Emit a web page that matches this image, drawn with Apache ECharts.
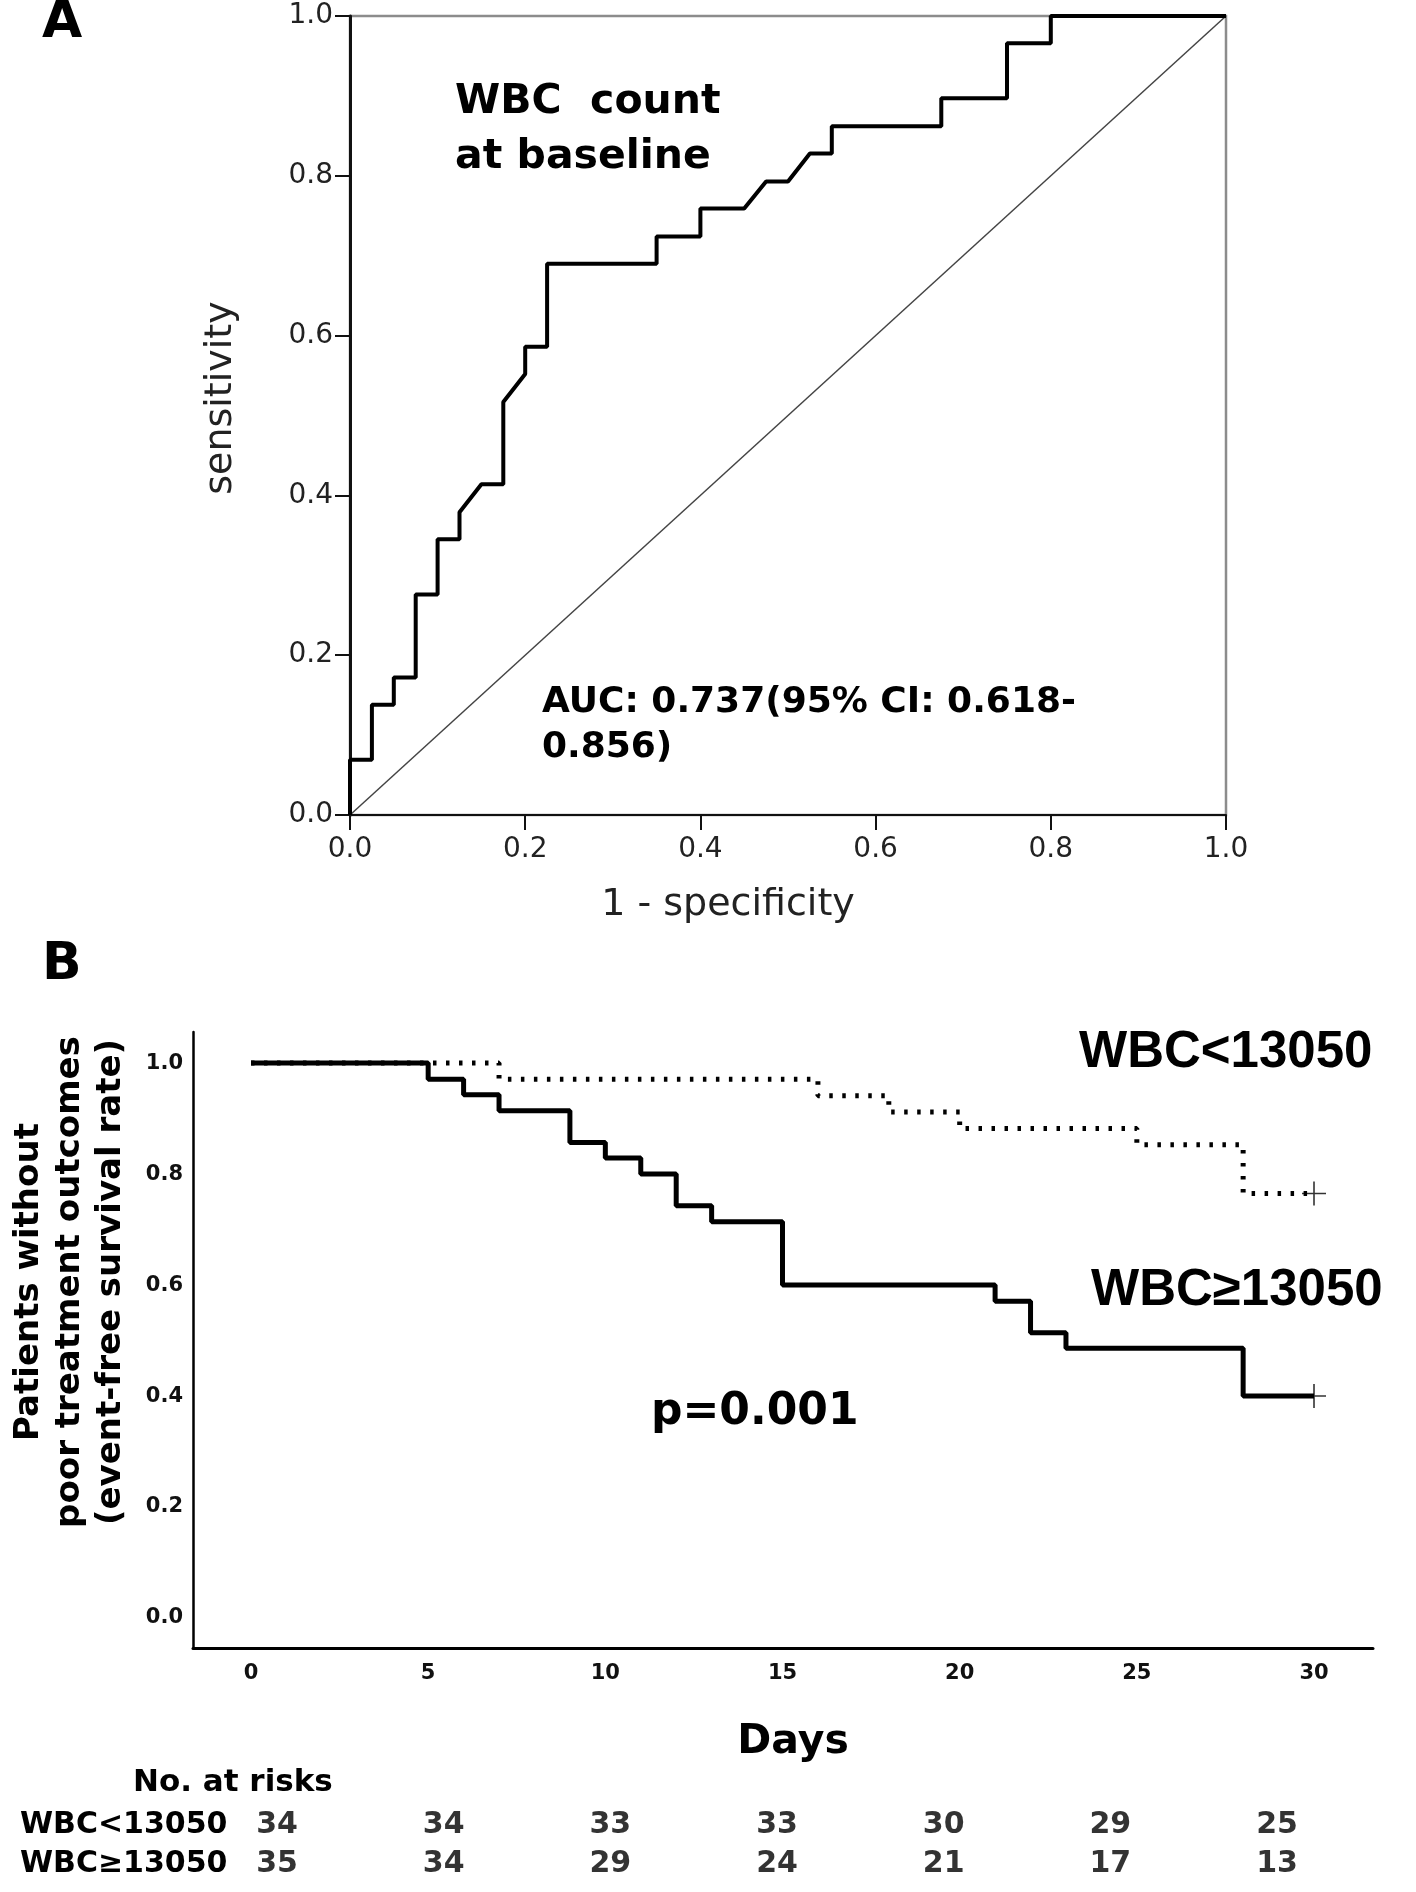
<!DOCTYPE html>
<html><head><meta charset="utf-8">
<script src="https://cdn.jsdelivr.net/npm/echarts@6/dist/echarts.min.js"></script>
<style>html,body{margin:0;padding:0;background:#fff}#c{width:1416px;height:1892px}</style>
</head><body><div id="c"></div>
<script>
// ---------- Panel A: ROC curve (vertices of the empirical curve) ----------
const rocFpr  = [0, 0, 0.025, 0.025, 0.05, 0.05, 0.075, 0.075, 0.1, 0.1, 0.125, 0.125, 0.15, 0.175, 0.175, 0.2, 0.2, 0.225, 0.225, 0.35, 0.35, 0.4, 0.4, 0.45, 0.475, 0.5, 0.525, 0.55, 0.55, 0.675, 0.675, 0.75, 0.75, 0.8, 0.8, 1.0];
const rocSens = [0, 0.069, 0.069, 0.138, 0.138, 0.172, 0.172, 0.276, 0.276, 0.345, 0.345, 0.379, 0.414, 0.414, 0.517, 0.552, 0.586, 0.586, 0.690, 0.690, 0.724, 0.724, 0.759, 0.759, 0.793, 0.793, 0.828, 0.828, 0.862, 0.862, 0.897, 0.897, 0.966, 0.966, 1.0, 1.0];
const diagFpr  = [0, 1];
const diagSens = [0, 1];

// ---------- Panel B: Kaplan-Meier ----------
const kmLowDays  = [0, 7, 16, 18, 20, 25, 28, 30];
const kmLowSurv  = [1.0, 0.971, 0.941, 0.912, 0.882, 0.853, 0.765, 0.765];
const kmHighDays = [0, 5, 6, 7, 9, 10, 11, 12, 13, 15, 21, 22, 23, 28, 30];
const kmHighSurv = [1.0, 0.971, 0.943, 0.914, 0.857, 0.829, 0.800, 0.743, 0.714, 0.600, 0.571, 0.514, 0.486, 0.400, 0.400];
const censorDays = [30, 30];
const censorSurv = [0.765, 0.400];
const kmDayTicks  = [0, 5, 10, 15, 20, 25, 30];
const kmSurvTicks = [0, 0.2, 0.4, 0.6, 0.8, 1.0];

// ---------- Numbers at risk ----------
const groupNames = ['WBC<13050', 'WBC\u226513050'];
const riskDays = [0, 5, 10, 15, 20, 25, 30];
const riskLow  = [34, 34, 33, 33, 30, 29, 25];
const riskHigh = [35, 34, 29, 24, 21, 17, 13];

const chart = echarts.init(document.getElementById('c'), null, {renderer: 'canvas'});
const F = 'DejaVu Sans';

function txt(x, y, text, size, opts) {
  opts = opts || {};
  return {
    type: 'text', x: x, y: y, rotation: opts.rot || 0, z: 100,
    style: {
      text: text, fill: opts.color || '#000',
      font: (opts.weight || 'bold') + ' ' + size + 'px "' + (opts.family || F) + '"',
      textAlign: opts.align || 'left', textVerticalAlign: 'middle'
    }
  };
}

const option = {
  animation: false,
  backgroundColor: '#fff',
  grid: [
    {left: 350, top: 16, width: 876, height: 799, show: true, borderColor: '#8c8c8c', borderWidth: 2.5, backgroundColor: 'transparent'},
    {left: 193, top: 1032, width: 1180, height: 616},
    {left: 277, top: 1806, width: 1000, height: 78}
  ],
  xAxis: [
    {gridIndex: 0, type: 'value', min: 0, max: 1, interval: 0.2,
     axisLine: {show: true, onZero: false, lineStyle: {color: '#111', width: 2}},
     axisTick: {show: true, length: 15, lineStyle: {color: '#111', width: 2}},
     axisLabel: {margin: 21, fontFamily: F, fontSize: 28, color: '#222', formatter: v => v.toFixed(1)},
     splitLine: {show: false}},
    {gridIndex: 1, type: 'value', min: -1.637, max: 31.665,
     axisLine: {show: true, onZero: false, lineStyle: {color: '#000', width: 3}},
     axisTick: {show: false},
     axisLabel: {customValues: kmDayTicks, margin: 15, fontFamily: F, fontWeight: 'bold', fontSize: 21, color: '#111', formatter: v => String(v)},
     splitLine: {show: false}},
    {gridIndex: 2, type: 'value', min: 0, max: 30, show: false}
  ],
  yAxis: [
    {gridIndex: 0, type: 'value', min: 0, max: 1, interval: 0.2,
     axisLine: {show: true, onZero: false, lineStyle: {color: '#111', width: 3}},
     axisTick: {show: true, length: 15, lineStyle: {color: '#111', width: 2}},
     axisLabel: {margin: 17, fontFamily: F, fontSize: 28, color: '#222', formatter: v => v.toFixed(1)},
     splitLine: {show: false}},
    {gridIndex: 1, type: 'value', min: -0.054, max: 1.056,
     axisLine: {show: true, onZero: false, lineStyle: {color: '#000', width: 2.5}},
     axisTick: {show: false},
     axisLabel: {customValues: kmSurvTicks, margin: 10, fontFamily: F, fontWeight: 'bold', fontSize: 21, color: '#111', padding: [9, 0, 0, 0], formatter: v => v.toFixed(1)},
     splitLine: {show: false}},
    {gridIndex: 2, type: 'category', inverse: true, data: groupNames,
     axisLine: {show: false}, axisTick: {show: false}, splitLine: {show: false},
     axisLabel: {interval: 0, align: 'left', margin: 257, fontFamily: F, fontWeight: 'bold', fontSize: 30, color: '#000'}}
  ],
  series: [
    {type: 'line', xAxisIndex: 0, yAxisIndex: 0, data: diagFpr.map((x, i) => [x, diagSens[i]]),
     symbol: 'none', lineStyle: {color: '#444', width: 1.5}, z: 2},
    {type: 'line', xAxisIndex: 0, yAxisIndex: 0, data: rocFpr.map((x, i) => [x, rocSens[i]]),
     symbol: 'none', lineStyle: {color: '#000', width: 4}, z: 3},
    {type: 'line', xAxisIndex: 1, yAxisIndex: 1, step: 'end', data: kmHighDays.map((d, i) => [d, kmHighSurv[i]]),
     symbol: 'none', lineStyle: {color: '#000', width: 5}, z: 3},
    {type: 'line', xAxisIndex: 1, yAxisIndex: 1, step: 'end', data: kmLowDays.map((d, i) => [d, kmLowSurv[i]]),
     symbol: 'none', lineStyle: {color: '#000', width: 5, type: [3.5, 9.5]}, z: 4},
    {type: 'scatter', xAxisIndex: 1, yAxisIndex: 1, data: censorDays.map((d, i) => [d, censorSurv[i]]),
     symbol: 'path://M10,0L10,20M0,10L20,10', symbolSize: 24,
     itemStyle: {color: 'transparent', borderColor: '#000', borderWidth: 1.6}, z: 5},
    {type: 'scatter', xAxisIndex: 2, yAxisIndex: 2, data: riskDays.map((d, i) => [d, 0, riskLow[i]]),
     symbolSize: 1, itemStyle: {color: 'transparent'},
     label: {show: true, position: 'inside', formatter: p => String(p.value[2]), fontFamily: F, fontWeight: 'bold', fontSize: 30, color: '#000'}},
    {type: 'scatter', xAxisIndex: 2, yAxisIndex: 2, data: riskDays.map((d, i) => [d, 1, riskHigh[i]]),
     symbolSize: 1, itemStyle: {color: 'transparent'},
     label: {show: true, position: 'inside', formatter: p => String(p.value[2]), fontFamily: F, fontWeight: 'bold', fontSize: 30, color: '#000'}}
  ],
  graphic: [
    txt(42, 23, 'A', 52),
    txt(42, 965, 'B', 52),
    txt(455, 102, 'WBC  count', 41),
    txt(455, 157, 'at baseline', 41),
    txt(542, 703, 'AUC: 0.737(95% CI: 0.618-', 36),
    txt(542, 748, '0.856)', 36),
    txt(728, 905, '1 - specificity', 38, {weight: 'normal', align: 'center', color: '#222'}),
    txt(221, 398, 'sensitivity', 38, {weight: 'normal', align: 'center', color: '#222', rot: Math.PI / 2}),
    txt(1079, 1053, 'WBC<13050', 51, {family: 'Liberation Sans'}),
    txt(1091, 1291, 'WBC\u226513050', 51, {family: 'Liberation Sans'}),
    txt(651, 1413, 'p=0.001', 44),
    txt(793, 1742, 'Days', 41, {align: 'center'}),
    txt(133, 1783, 'No. at risks', 31),
    txt(29, 1282, 'Patients without', 34, {align: 'center', rot: Math.PI / 2}),
    txt(70, 1282, 'poor treatment outcomes', 34, {align: 'center', rot: Math.PI / 2}),
    txt(111, 1282, '(event-free survival rate)', 34, {align: 'center', rot: Math.PI / 2})
  ]
};
chart.setOption(option);
</script>
</body></html>
